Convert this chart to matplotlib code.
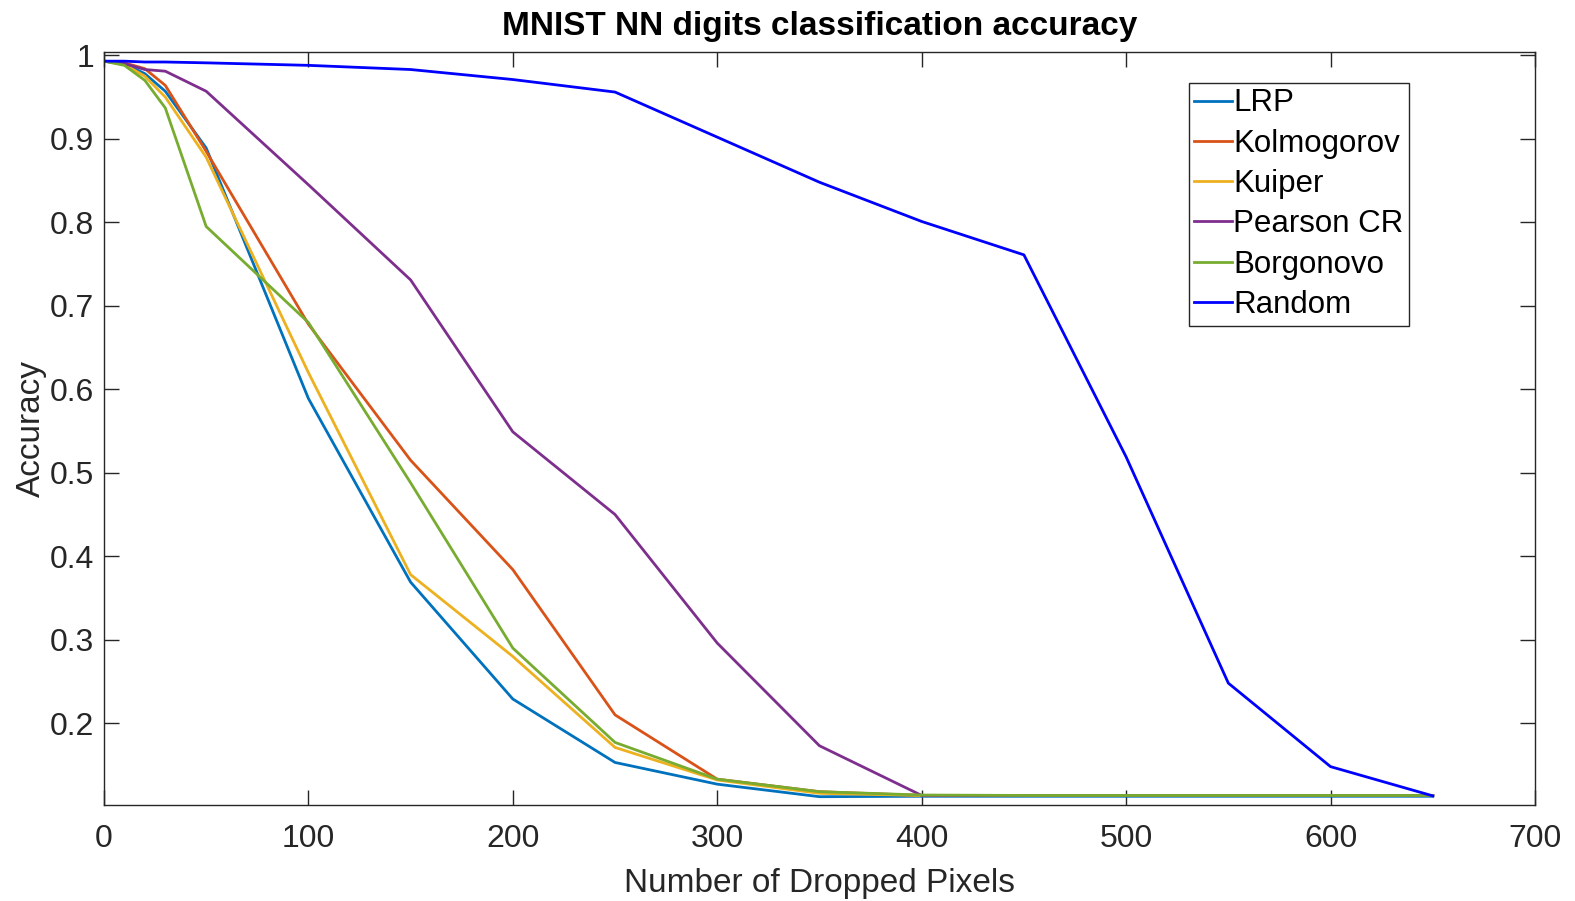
import matplotlib.pyplot as plt
from matplotlib.ticker import FuncFormatter

plt.rcParams['font.family'] = ['Liberation Sans', 'DejaVu Sans']

pixels = [0, 10, 20, 30, 50, 100, 150, 200, 250, 300, 350, 400, 450, 500, 550, 600, 650]

lrp = [0.993, 0.990, 0.978, 0.957, 0.889, 0.589, 0.369, 0.229, 0.153, 0.127, 0.112,
       0.1125, 0.1125, 0.1125, 0.1125, 0.1125, 0.1125]
kolmogorov = [0.993, 0.991, 0.984, 0.964, 0.885, 0.678, 0.515, 0.384, 0.210, 0.133, 0.118,
              0.1135, 0.1135, 0.1135, 0.1135, 0.1135, 0.1135]
kuiper = [0.993, 0.989, 0.975, 0.950, 0.878, 0.620, 0.378, 0.280, 0.171, 0.132, 0.116,
          0.1135, 0.1135, 0.1135, 0.1135, 0.1135, 0.1135]
pearson = [0.993, 0.990, 0.983, 0.981, 0.957, 0.845, 0.731, 0.549, 0.450, 0.296, 0.173,
           0.1135, 0.1135, 0.1135, 0.1135, 0.1135, 0.1135]
borgonovo = [0.993, 0.988, 0.970, 0.937, 0.795, 0.680, 0.488, 0.290, 0.177, 0.133, 0.118,
             0.114, 0.1135, 0.1135, 0.1135, 0.1135, 0.1135]
random_drop = [0.993, 0.993, 0.992, 0.992, 0.991, 0.988, 0.983, 0.971, 0.956, 0.902, 0.848,
               0.801, 0.761, 0.519, 0.248, 0.148, 0.113]

series = [('LRP', lrp, '#0072BD'),
          ('Kolmogorov', kolmogorov, '#D95319'),
          ('Kuiper', kuiper, '#EDB120'),
          ('Pearson CR', pearson, '#7E2F8E'),
          ('Borgonovo', borgonovo, '#77AC30'),
          ('Random', random_drop, '#0000FF')]

fig = plt.figure(figsize=(15.75, 9.01), dpi=100)
ax = fig.add_axes([0.066, 0.1065, 0.9086, 0.8358])

for name, vals, col in series:
    ax.plot(pixels, vals, color=col, linewidth=2.0, label=name)

ax.set_xlim(0, 700)
ax.set_ylim(0.102, 1.004)
ax.set_xticks(range(0, 701, 100))
ax.set_yticks([0.2, 0.3, 0.4, 0.5, 0.6, 0.7, 0.8, 0.9, 1.0])
ax.yaxis.set_major_formatter(FuncFormatter(lambda v, p: '%g' % round(v, 2)))

axis_col = '#262626'
for s in ax.spines.values():
    s.set_color(axis_col)
    s.set_linewidth(1.0)
ax.tick_params(direction='in', length=11, width=1.0, colors=axis_col,
               labelsize=23, top=True, right=True, pad=7)
ax.tick_params(axis='x', pad=14)

ax.set_xlabel('Number of Dropped Pixels', fontsize=24, color=axis_col, labelpad=10)
ax.set_ylabel('Accuracy', fontsize=24, color=axis_col, labelpad=2)
ax.set_title('MNIST NN digits classification accuracy', fontsize=24,
             fontweight='bold', pad=12)

leg = ax.legend(loc='upper right', bbox_to_anchor=(0.912, 0.959), fontsize=22.5,
                fancybox=False, framealpha=1, edgecolor=axis_col,
                handlelength=1.2, handletextpad=0.05, labelspacing=0.33,
                borderpad=0.18, borderaxespad=0)
leg.get_frame().set_linewidth(1.0)

plt.savefig('out.png', dpi=100)
